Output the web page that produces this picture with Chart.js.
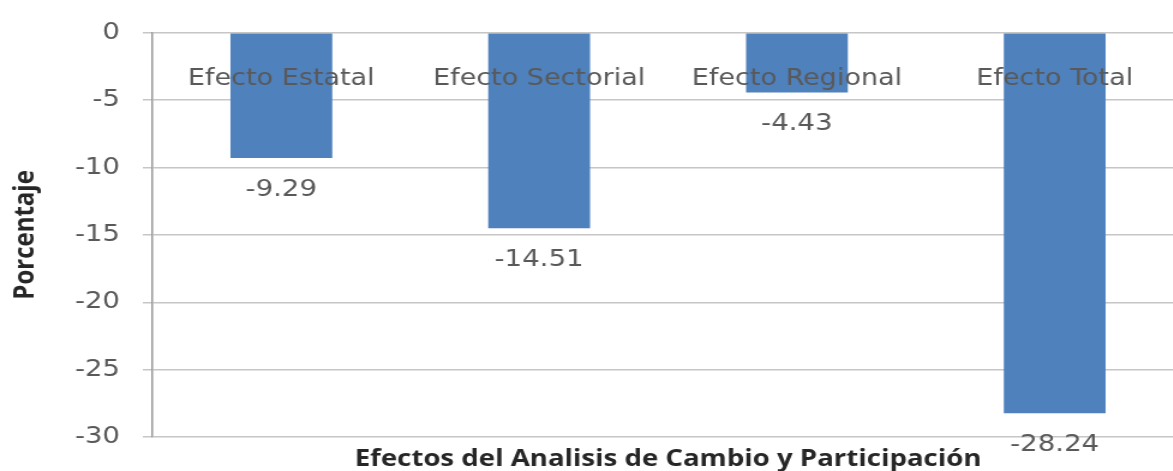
<!DOCTYPE html>
<html>
<head>
<meta charset="utf-8">
<script src="https://cdn.jsdelivr.net/npm/chart.js@4/dist/chart.umd.min.js"></script>
<style>
  html, body { margin: 0; padding: 0; background: #fff; overflow: hidden; }
  #wrap { width: 1186px; height: 471px; }
</style>
</head>
<body>
<div id="wrap">
  <!-- drawn narrower and stretched a bit sideways, like the source picture -->
  <canvas id="chart" width="988" height="471" style="width:1186px;height:471px;display:block"></canvas>
</div>
<script>
const categories = ["Efecto Estatal", "Efecto Sectorial", "Efecto Regional", "Efecto Total"];
const values = [-9.29, -14.51, -4.43, -28.24];
const valueLabels = ["-9.29", "-14.51", "-4.43", "-28.24"];

const gray = "#595959";
const font = "'DejaVu Sans', sans-serif";
const boldFont = "'Open Sans', sans-serif";

// category names sit inside the plot, just under the zero line
const categoryLabels = {
  id: "categoryLabels",
  afterDatasetsDraw(chart) {
    const { ctx, scales } = chart;
    const y0 = scales.y.getPixelForValue(0);
    ctx.save();
    ctx.fillStyle = gray;
    ctx.font = "22.5px " + font;
    ctx.textAlign = "center";
    ctx.textBaseline = "middle";
    categories.forEach((c, i) => {
      ctx.fillText(c, scales.x.getPixelForValue(i), y0 + 46);
    });
    ctx.restore();
  },
};

// value labels below the end of each bar
const valueLabelsPlugin = {
  id: "valueLabels",
  afterDatasetsDraw(chart) {
    const { ctx } = chart;
    const meta = chart.getDatasetMeta(0);
    ctx.save();
    ctx.fillStyle = gray;
    ctx.font = "23px " + font;
    ctx.textAlign = "center";
    ctx.textBaseline = "middle";
    meta.data.forEach((bar, i) => {
      ctx.fillText(valueLabels[i], bar.x, bar.y + 32);
    });
    ctx.restore();
  },
};

new Chart(document.getElementById("chart"), {
  type: "bar",
  data: {
    labels: categories,
    datasets: [
      {
        data: values,
        backgroundColor: "#4f81bd",
        categoryPercentage: 1,
        barPercentage: 0.395,
      },
    ],
  },
  options: {
    responsive: false,
    animation: false,
    devicePixelRatio: 1,
    layout: { padding: { top: 29, right: 2, left: 0, bottom: 0 } },
    plugins: {
      legend: { display: false },
      tooltip: { enabled: false },
    },
    scales: {
      x: {
        grid: { display: false },
        border: { display: false },
        ticks: { display: false },
        title: {
          display: true,
          text: "Efectos del Analisis de Cambio y Participación",
          color: "#262626",
          font: { family: boldFont, size: 23, weight: "bold" },
          padding: { top: 2, bottom: -2 },
        },
        afterFit(scale) {
          scale.height = 34;
        },
      },
      y: {
        min: -30,
        max: 0,
        ticks: {
          stepSize: 5,
          color: gray,
          font: { family: font, size: 23 },
          padding: 19,
        },
        grid: { color: "#c6c6c6", lineWidth: 1.5, tickLength: 8 },
        border: { color: "#9a9a9a", width: 1.5 },
        title: {
          display: true,
          text: "Porcentaje",
          color: "#262626",
          font: { family: boldFont, size: 24, weight: "bold" },
          padding: { top: 7, bottom: 0 },
        },
        afterFit(scale) {
          scale.width = 127;
        },
      },
    },
  },
  plugins: [categoryLabels, valueLabelsPlugin],
});
</script>
</body>
</html>
